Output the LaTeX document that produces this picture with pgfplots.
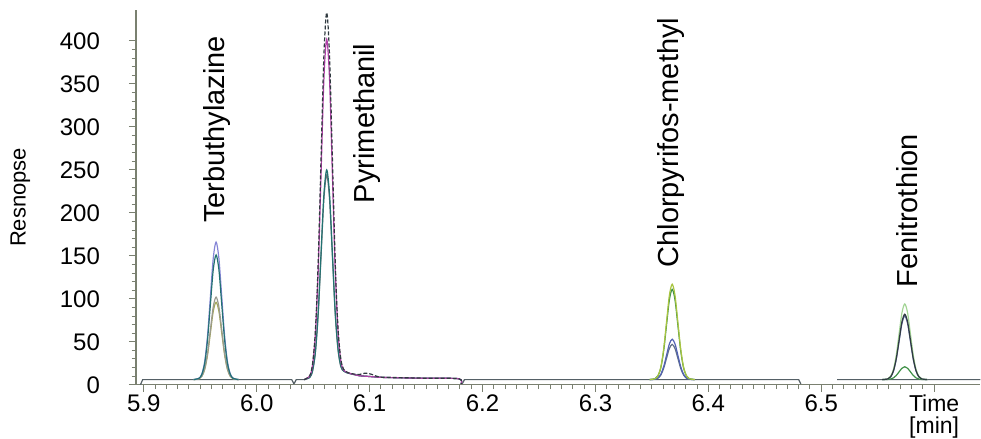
\documentclass[border=0pt]{standalone}
\usepackage{fontspec}
\setmainfont{Liberation Sans}
\usepackage{pgfplots}
\pgfplotsset{compat=1.18}
\usepackage{pgfplotstable}

\definecolor{lav}{HTML}{8585D6}
\definecolor{tealc}{HTML}{237272}
\definecolor{grayc}{HTML}{9A9A90}
\definecolor{olivec}{HTML}{A4A85A}
\definecolor{magc}{HTML}{B040A8}
\definecolor{darkc}{HTML}{303A40}
\definecolor{ygreen}{HTML}{A8C440}
\definecolor{greenc}{HTML}{3E9046}
\definecolor{bluec}{HTML}{5262B4}
\definecolor{gblue}{HTML}{607088}
\definecolor{lgreen}{HTML}{A2D494}
\definecolor{basec}{HTML}{556066}
\definecolor{axisc}{HTML}{7A8070}

% baseline segments (nan = break)
\pgfplotstableread{
x y
5.897 0
5.899 6
6.031 6
6.033 1
nan nan
6.033 1
6.035 6
6.043 6
nan nan
6.182 1
6.184 6
6.480 6
6.482 1
nan nan
6.514 6
6.641 6
}\base

\pgfplotstableread{
x a b c d
5.944 6 6 6 6
5.949 7.8 7.6 7.1 7.0
5.9515 13.0 12.4 10.2 10.0
5.954 27.6 25.6 19.0 18.2
5.9565 58.0 53.1 37.2 35.2
5.959 103.0 94.0 64.2 60.6
5.9615 147.2 134.0 90.7 85.4
5.964 166 151 102 96
5.9665 147.2 134.0 90.7 85.4
5.969 103.0 94.0 64.2 60.6
5.9715 58.0 53.1 37.2 35.2
5.974 27.6 25.6 19.0 18.2
5.9765 13.0 12.4 10.2 10.0
5.979 7.8 7.6 7.1 7.0
5.984 6 6 6 6
}\terb

\pgfplotstableread{
x a m b c
6.042 6 6 6 6
6.047 10.7 10.4 8.7 8.6
6.0495 24.7 23.4 16.7 16.4
6.052 63.8 59.6 39.0 38.2
6.0545 144.6 134.6 85.2 83.3
6.057 265.0 246.2 154.0 150.3
6.0595 382.8 355.5 221.3 216.0
6.062 433 402 250 244
6.0645 382.8 355.5 221.3 216.0
6.067 265.0 246.2 154.0 150.3
6.0695 144.6 134.6 85.2 83.3
6.072 66 62 42 41
6.0745 30 28 22 21
6.077 18 17 16 16
6.081 14 14 13.5 13.5
6.086 12.5 12 12 12
6.091 12 10.5 10.5 10.5
6.096 13.5 10 10 10
6.101 12.5 9.5 9.5 9.5
6.106 10 9 9 9
6.111 8.8 8.6 8.6 8.6
6.131 8.2 8 8 8
6.151 7.6 7.5 7.5 7.5
6.179 7 7 7 7
6.181 1 1 1 1
}\pyri

\pgfplotstableread{
x a b c d
6.348 6 6 6 6
6.353 7.2 7.2 6.5 6.5
6.3555 10.9 10.6 8.1 7.8
6.358 21.0 20.2 12.4 11.5
6.3605 42.0 40.1 21.3 19.3
6.363 73.3 69.7 34.5 30.9
6.3655 104.0 98.7 47.5 42.2
6.368 117 111 53 47
6.3705 104.0 98.7 47.5 42.2
6.373 73.3 69.7 34.5 30.9
6.3755 42.0 40.1 21.3 19.3
6.378 21.0 20.2 12.4 11.5
6.3805 10.9 10.6 8.1 7.8
6.383 7.2 7.2 6.5 6.5
6.388 6 6 6 6
}\chlor

\pgfplotstableread{
x a b c d
6.554 6 6 6 6
6.559 7.0 6.8 6.8 6.2
6.5615 9.9 9.3 9.2 6.7
6.564 17.9 16.3 16.0 8.0
6.5665 34.6 30.7 30.0 10.9
6.569 59.4 52.1 50.9 15.1
6.5715 83.7 73.1 71.3 19.2
6.574 94 82 80 21
6.5765 83.7 73.1 71.3 19.2
6.579 59.4 52.1 50.9 15.1
6.5815 34.6 30.7 30.0 10.9
6.584 17.9 16.3 16.0 8.0
6.5865 9.9 9.3 9.2 6.7
6.589 7.0 6.8 6.8 6.2
6.594 6 6 6 6
}\fenit

\begin{document}
\begin{tikzpicture}
\begin{axis}[
  scale only axis, width=422.5pt, height=187.5pt,
  xmin=5.893, xmax=6.641, ymin=0, ymax=436,
  axis x line=bottom, axis y line=left,
  axis line style={-, axisc, line width=0.6pt},
  xtick={5.9,6,6.1,6.2,6.3,6.4,6.5,6.6},
  xticklabels={5.9,6.0,6.1,6.2,6.3,6.4,6.5,{}},
  minor x tick num=9,
  ytick={0,50,...,400},
  minor y tick num=4,
  xminorticks=true, yminorticks=true,
  tick align=outside, major tick length=3.5pt, minor tick length=2.2pt,
  tick style={axisc, line width=0.5pt},
  ticklabel style={font=\fontsize{12}{14}\selectfont},
  yticklabel style={xshift=-11pt},
  xticklabel style={yshift=2pt},
  /pgf/number format/assume math mode=true,
  ylabel={Resnopse},
  ylabel style={font=\fontsize{11}{13}\selectfont, at={(axis description cs:-0.137,0.5)}, anchor=center},
  clip=false, unbounded coords=jump,
  every axis plot/.append style={line width=0.6pt},
]
\addplot[basec, sharp plot] table[x=x, y=y] {\base};

\addplot[olivec, smooth] table[x=x, y=d] {\terb};
\addplot[grayc, smooth] table[x=x, y=c] {\terb};
\addplot[lav, smooth] table[x=x, y=a] {\terb};
\addplot[tealc, smooth] table[x=x, y=b] {\terb};

\addplot[darkc!70, smooth] table[x=x, y=c] {\pyri};
\addplot[tealc, smooth] table[x=x, y=b] {\pyri};
\addplot[magc, smooth] table[x=x, y=m] {\pyri};
\addplot[darkc, smooth, dash pattern=on 2pt off 1pt] table[x=x, y=a] {\pyri};

\addplot[gblue, smooth] table[x=x, y=d] {\chlor};
\addplot[bluec, smooth] table[x=x, y=c] {\chlor};
\addplot[greenc, smooth] table[x=x, y=b] {\chlor};
\addplot[ygreen, smooth] table[x=x, y=a] {\chlor};

\addplot[greenc, smooth] table[x=x, y=d] {\fenit};
\addplot[bluec!70!gray, smooth] table[x=x, y=c] {\fenit};
\addplot[lgreen, smooth] table[x=x, y=a] {\fenit};
\addplot[darkc, smooth] table[x=x, y=b] {\fenit};

\node[rotate=90, anchor=west, inner sep=0pt, font=\fontsize{14.5}{16}\selectfont] at (axis cs:5.965,188) {Terbuthylazine};
\node[rotate=90, anchor=west, inner sep=0pt, font=\fontsize{14.5}{16}\selectfont] at (axis cs:6.098,211) {Pyrimethanil};
\node[rotate=90, anchor=west, inner sep=0pt, font=\fontsize{14.5}{16}\selectfont] at (axis cs:6.367,136) {Chlorpyrifos-methyl};
\node[rotate=90, anchor=west, inner sep=0pt, font=\fontsize{14.5}{16}\selectfont] at (axis cs:6.576,113) {Fenitrothion};
\node[anchor=north, align=center, inner sep=0pt, font=\fontsize{11.5}{11}\selectfont] at (axis cs:6.6,0) [yshift=-5pt] {Time\\{}[min]};
\end{axis}
\path ([yshift=5pt]current axis.north);
\path ([xshift=-68pt]current axis.south west);
\end{tikzpicture}
\end{document}
